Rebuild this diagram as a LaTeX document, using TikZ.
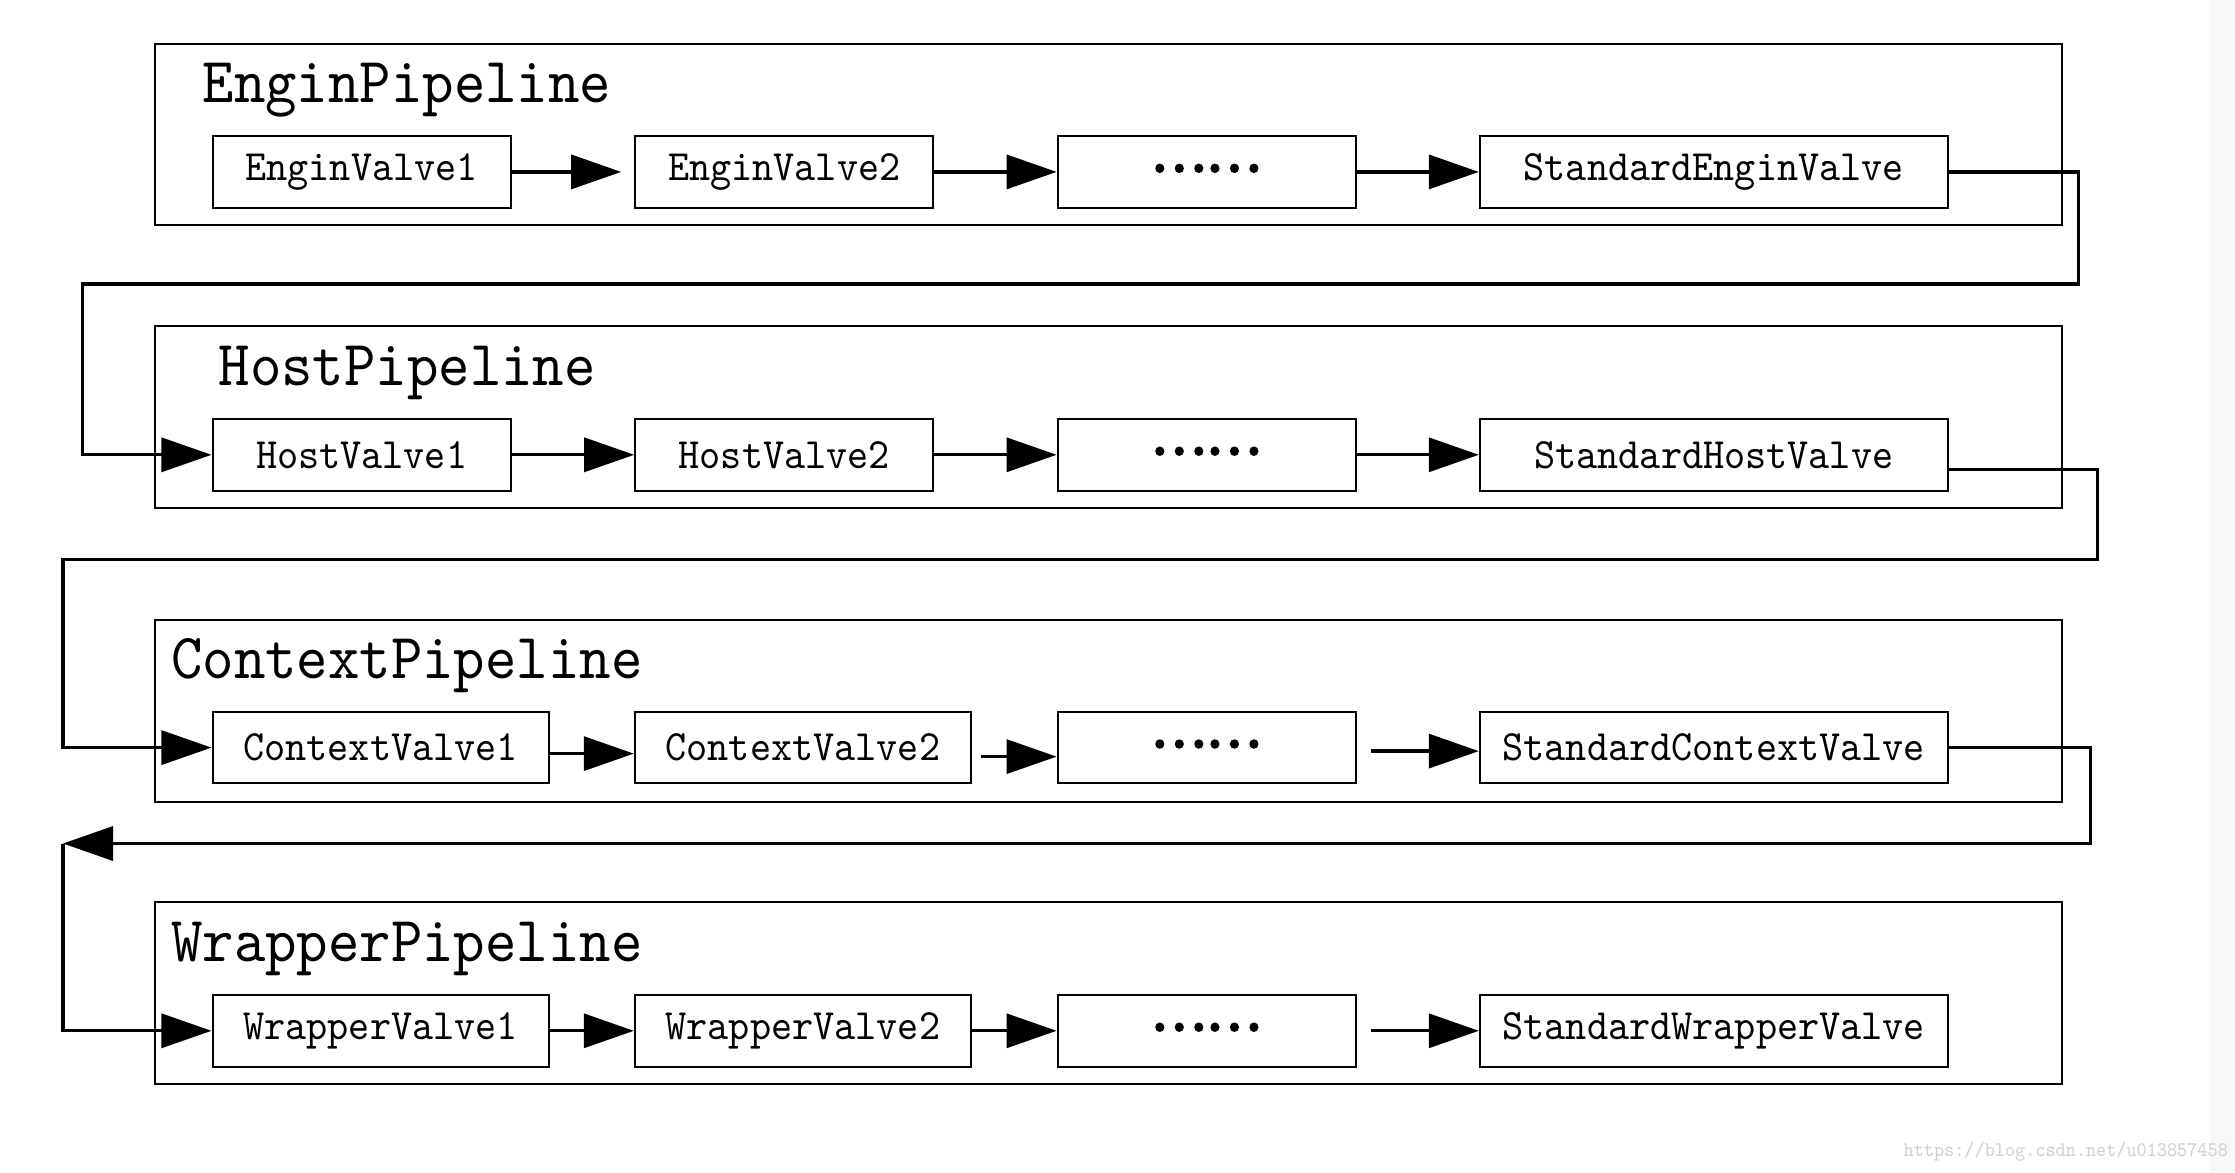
\documentclass[tikz,border=0pt]{standalone}
\usepackage{fontspec}
\usetikzlibrary{arrows.meta}
\newfontfamily\vfont[FakeStretch=0.93]{lmmono10-regular.otf}
\newfontfamily\cjkfont[FakeBold=4]{Noto Sans CJK SC}
\definecolor{stripgray}{HTML}{F7F8FA}
\definecolor{wmgray}{HTML}{CFCFCF}
\begin{document}
\begin{tikzpicture}[x=0.01cm,y=-0.01cm,
  valve/.style={draw, line width=0.02cm, minimum height=0.715cm, inner sep=0pt,
    font=\vfont\fontsize{12.3}{14}\selectfont},
  nar/.style={valve, minimum width=2.98cm},
  wid/.style={valve, minimum width=3.36cm},
  std/.style={valve, minimum width=4.677cm},
  pipe/.style={draw, line width=0.02cm, inner sep=0pt, minimum width=19.056cm, minimum height=1.81cm},
  ptitle/.style={anchor=base west, inner sep=0pt, font=\vfont\fontsize{18.3}{22}\selectfont},
  arr/.style={line width=0.033cm, -{Triangle[length=0.5cm,width=0.34cm]}},
  larr/.style={line width=0.033cm, {Triangle[length=0.5cm,width=0.34cm]}-},
  dotstext/.style={inner sep=0pt, font=\cjkfont\fontsize{14.8}{16}\selectfont}
]
\useasboundingbox (0,0) rectangle (2235,1172);
\fill[white] (0,0) rectangle (2235,1172);
\fill[stripgray] (2210,0) rectangle (2235,1172);

% ---------- Engin ----------
\node[pipe] (P1) at (1108.5,134.7) {};
\node[ptitle] (T1) at (202,102.6) {EnginPipeline};
\node[nar] (E1) at (361.6,171.9) {EnginValve1};
\node[nar] (E2) at (784.3,171.9) {EnginValve2};
\node[nar] (E3) at (1206.7,171.9) {};
\node[dotstext] (E3t) at (1206,168.3) {……};
\node[std] (E4) at (1713.8,171.9) {StandardEnginValve};

% ---------- Host ----------
\node[pipe] (P2) at (1108.5,417) {};
\node[ptitle] (T2) at (218,385.8) {HostPipeline};
\node[nar] (H1) at (361.6,454.8) {HostValve1};
\node[nar] (H2) at (784.3,454.8) {HostValve2};
\node[nar] (H3) at (1206.7,454.8) {};
\node[dotstext] (H3t) at (1206,451.2) {……};
\node[std] (H4) at (1713.8,454.8) {StandardHostValve};

% ---------- Context ----------
\node[pipe] (P3) at (1108.5,711) {};
\node[ptitle] (T3) at (170.5,678.9) {ContextPipeline};
\node[wid] (C1) at (380.6,747.6) {ContextValve1};
\node[wid] (C2) at (802.9,747.6) {ContextValve2};
\node[nar] (C3) at (1206.7,747.6) {};
\node[dotstext] (C3t) at (1206,744) {……};
\node[std] (C4) at (1713.8,747.6) {StandardContextValve};

% ---------- Wrapper ----------
\node[pipe] (P4) at (1108.5,993) {};
\node[ptitle] (T4) at (170.5,961.3) {WrapperPipeline};
\node[wid] (W1) at (380.6,1030.8) {WrapperValve1};
\node[wid] (W2) at (802.9,1030.8) {WrapperValve2};
\node[nar] (W3) at (1206.7,1030.8) {};
\node[dotstext] (W3t) at (1206,1027.2) {……};
\node[std] (W4) at (1713.8,1030.8) {StandardWrapperValve};

% ---------- bends ----------
\coordinate (k1) at (2078.7,284);
\coordinate (k2) at (82.8,284);
\coordinate (k3) at (2097.5,559.5);
\coordinate (k4) at (63,559.5);
\coordinate (k5) at (2090.3,843.5);
\coordinate (k6) at (63,843.5);

% ---------- arrows in rows ----------
\draw[arr, shorten >=0.13cm] (E1.east) -- (E2.west);
\draw[arr] (E2.east) -- (E3.west);
\draw[arr] (E3.east) -- (E4.west);

\draw[arr] (H1.east) -- (H2.west);
\draw[arr] (H2.east) -- (H3.west);
\draw[arr] (H3.east) -- (H4.west);

\draw[arr] ([yshift=-0.06cm]C1.east) -- ([yshift=-0.06cm]C2.west);
\draw[arr] ([xshift=0.09cm,yshift=-0.09cm]C2.east) -- ([yshift=-0.09cm]C3.west);
\draw[arr] ([xshift=0.14cm,yshift=-0.035cm]C3.east) -- ([yshift=-0.035cm]C4.west);

\draw[arr] (W1.east) -- (W2.west);
\draw[arr] (W2.east) -- (W3.west);
\draw[arr] ([xshift=0.14cm]W3.east) -- (W4.west);

% ---------- connectors between pipelines ----------
\draw[arr] (E4.east) -| (k1) -- (k2) |- (H1.west);
\draw[arr] ([yshift=-0.15cm]H4.east) -| (k3) -- (k4) |- (C1.west);
\draw[larr] (k6) -- (k6 -| k5) |- (C4.east);
\draw[arr] (k6) |- (W1.west);

% ---------- watermark ----------
\node[anchor=base west, inner sep=0pt, text=wmgray, font=\vfont\fontsize{5.9}{7}\selectfont] (wmk) at (1903,1156.7) {https://blog.csdn.net/u013857458};
\end{tikzpicture}
\end{document}
